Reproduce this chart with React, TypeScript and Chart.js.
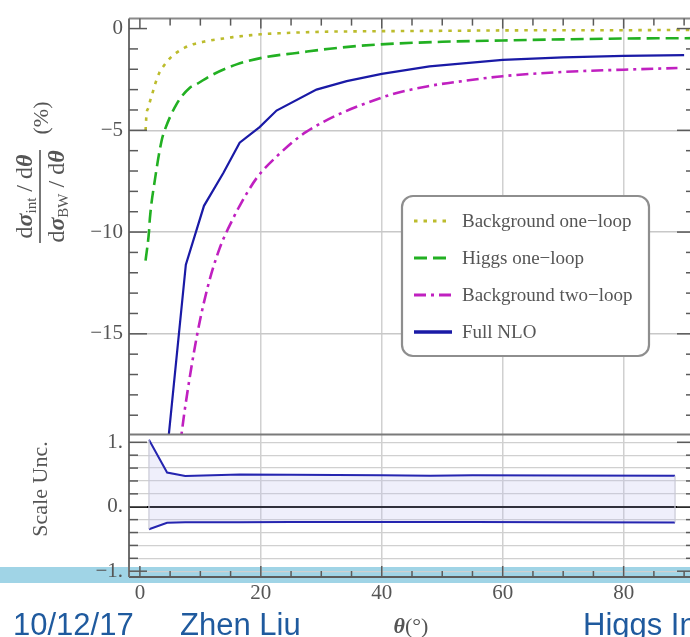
import React, { useEffect, useRef } from "react";
import { Chart, registerables } from "chart.js";

Chart.register(...registerables);

// ---------------- data ----------------
const THETA_BKG1 = [0.94, 1.1, 1.4, 1.65, 1.95, 2.5, 3.2, 3.87, 4.96, 6.07, 7.4, 8.8, 10.5, 12.1, 13.8, 15.4, 18.5, 20, 23.1, 29.8, 39, 50, 60, 70, 80, 91.8];
const BKG_ONE_LOOP = [-5.0, -4.2, -3.9, -3.6, -3.31, -2.75, -2.18, -1.86, -1.46, -1.18, -0.94, -0.77, -0.65, -0.56, -0.49, -0.42, -0.32, -0.28, -0.23, -0.16, -0.13, -0.11, -0.09, -0.08, -0.08, -0.06];

const THETA_HIGGS = [0.94, 1.5, 1.65, 2.5, 3.6, 4.1, 6.07, 8.26, 9.4, 11.6, 16, 21, 25.9, 31.4, 39, 50, 60, 70, 80, 91.8];
const HIGGS_ONE_LOOP = [-11.4, -10.0, -9.34, -7.4, -5.5, -5.0, -3.71, -2.91, -2.73, -2.33, -1.76, -1.39, -1.2, -0.99, -0.79, -0.65, -0.585, -0.53, -0.49, -0.47];

const THETA_BKG2 = [6.0, 6.9, 7.44, 9.4, 11.2, 13.2, 15.4, 16.5, 19.3, 22.6, 27.5, 40, 47.9, 53.4, 60, 70, 80, 88.9];
const BKG_TWO_LOOP = [-22.0, -19.9, -18.7, -15.15, -12.72, -10.79, -9.34, -8.71, -7.35, -6.29, -5.08, -3.39, -2.82, -2.58, -2.34, -2.13, -2.02, -1.94];

const THETA_NLO = [4.5, 7.6, 10.6, 13.8, 16.5, 19.8, 22.6, 29.2, 34.2, 40, 47.9, 60, 70, 80, 90];
const FULL_NLO = [-20.8, -11.6, -8.71, -7.1, -5.61, -4.84, -4.03, -3.0, -2.58, -2.23, -1.86, -1.54, -1.42, -1.34, -1.3];

const THETA_SCALE = [1.5, 4.5, 7.5, 16.5, 25, 40, 48, 55, 70, 88.5];
const SCALE_UP = [1.04, 0.53, 0.476, 0.5, 0.495, 0.49, 0.48, 0.49, 0.485, 0.48];
const SCALE_DOWN = [-0.35, -0.25, -0.24, -0.24, -0.238, -0.237, -0.237, -0.237, -0.24, -0.245];

const LEGEND_LABELS = ["Background one\u2212loop", "Higgs one\u2212loop", "Background two\u2212loop", "Full NLO"];

const X_TICKS = [0, 20, 40, 60, 80];
const Y_TICKS = [0, -5, -10, -15];
const Y2_TICKS = [-1, -0.8, -0.6, -0.4, -0.2, 0, 0.2, 0.4, 0.6, 0.8, 1];
const Y2_LABELS: Record<string, string> = { "1": "1.", "0": "0.", "-1": "\u22121." };

const FOOTER = ["10/12/17", "Zhen Liu", "Higgs In"];

// ---------------- styling ----------------
const FS = "'Liberation Serif', 'DejaVu Serif', serif";
const FSANS = "'Liberation Sans', Arial, sans-serif";
const TXT = "#555";

const pts = (xs: number[], ys: number[]) => xs.map((x, i) => ({ x, y: ys[i] }));

function line(ctx: CanvasRenderingContext2D, x1: number, y1: number, x2: number, y2: number, color: string, w: number) {
  ctx.beginPath();
  ctx.strokeStyle = color;
  ctx.lineWidth = w;
  ctx.moveTo(x1, y1);
  ctx.lineTo(x2, y2);
  ctx.stroke();
}

const decoPlugin = {
  id: "deco",
  beforeDraw(chart: any) {
    const ctx = chart.ctx;
    ctx.save();
    ctx.fillStyle = "#a0d4e6";
    ctx.fillRect(0, 567, chart.width, 16);
    ctx.restore();
  },
};

const clipPlugin = {
  id: "panelClip",
  beforeDatasetDraw(chart: any, args: any) {
    const ys = chart.scales[args.meta.yAxisID];
    const a = chart.chartArea;
    const ctx = chart.ctx;
    ctx.save();
    ctx.beginPath();
    ctx.rect(a.left, ys.top, a.right - a.left, ys.bottom - ys.top);
    ctx.clip();
  },
  afterDatasetDraw(chart: any) {
    chart.ctx.restore();
  },
};

const framePlugin = {
  id: "frame",
  afterDatasetsDraw(chart: any) {
    const { ctx, chartArea: a, scales } = chart;
    const x = scales.x, y = scales.y, y2 = scales.y2;
    ctx.save();
    ctx.setLineDash([]);
    // band edges
    const ds4 = chart.data.datasets[4].data, ds5 = chart.data.datasets[5].data;
    [0, ds4.length - 1].forEach((i) => {
      const px = x.getPixelForValue(ds4[i].x);
      line(ctx, px, y2.getPixelForValue(ds4[i].y), px, y2.getPixelForValue(ds5[i].y), "#c9c9d6", 1.2);
    });
    // frame
    line(ctx, a.left, a.top, a.right, a.top, "#8a8a8a", 2);
    line(ctx, a.left, y.bottom, a.right, y.bottom, "#7a7a7a", 2);
    line(ctx, a.left, a.bottom, a.right, a.bottom, "#5c5c5c", 2);
    line(ctx, a.left, a.top, a.left, a.bottom, "#6e6e6e", 2);
    line(ctx, a.right, a.top, a.right, a.bottom, "#6e6e6e", 2);
    const tc = "#5a5a5a";
    for (let v = 0; v <= 90; v += 5) {
      const px = x.getPixelForValue(v);
      const major = v % 20 === 0;
      line(ctx, px, a.top, px, a.top + (major ? 10 : 7), tc, 1.5);
      line(ctx, px, a.bottom, px, a.bottom - (major ? 11 : 6), tc, 1.5);
    }
    for (let v = -19; v <= 0; v++) {
      const py = y.getPixelForValue(v);
      const len = v % 5 === 0 ? 18 : 9;
      line(ctx, a.left, py, a.left + len, py, tc, 1.5);
      line(ctx, a.right, py, a.right - len, py, tc, 1.5);
    }
    for (let i = -5; i <= 5; i++) {
      const py = y2.getPixelForValue(i * 0.2);
      const len = i % 5 === 0 ? 18 : 9;
      line(ctx, a.left, py, a.left + len, py, tc, 1.5);
      line(ctx, a.right, py, a.right - len, py, tc, 1.5);
    }
    // legend
    const bx = 402, by = 196, bw = 247, bh = 160;
    ctx.beginPath();
    ctx.roundRect(bx, by, bw, bh, 11);
    ctx.fillStyle = "#fff";
    ctx.fill();
    ctx.lineWidth = 2.2;
    ctx.strokeStyle = "#8e8e8e";
    ctx.stroke();
    ctx.font = `19px ${FS}`;
    ctx.textBaseline = "middle";
    ctx.textAlign = "left";
    for (let i = 0; i < 4; i++) {
      const ds = chart.data.datasets[i];
      const ry = 221 + i * 37;
      ctx.setLineDash(ds.borderDash || []);
      line(ctx, 414, ry, 452, ry, ds.borderColor, i === 3 ? 3.5 : 3);
      ctx.setLineDash([]);
      ctx.fillStyle = TXT;
      ctx.fillText(ds.label, 462, ry + 1);
    }
    ctx.restore();
  },
};

function drawPieces(ctx: CanvasRenderingContext2D, pieces: { t: string; f: string; dy?: number }[], cx: number, base: number) {
  const ws = pieces.map((p) => {
    ctx.font = p.f;
    return ctx.measureText(p.t).width;
  });
  const total = ws.reduce((s, w) => s + w, 0);
  let xx = cx - total / 2;
  pieces.forEach((p, i) => {
    ctx.font = p.f;
    ctx.fillText(p.t, xx, base + (p.dy || 0));
    xx += ws[i];
  });
}

const titlePlugin = {
  id: "titles",
  afterDraw(chart: any) {
    const ctx = chart.ctx;
    ctx.save();
    ctx.fillStyle = TXT;
    ctx.textAlign = "left";
    ctx.textBaseline = "alphabetic";
    // top y-axis title (fraction)
    ctx.save();
    ctx.translate(40, 196.5);
    ctx.rotate(-Math.PI / 2);
    const R = `24px ${FS}`, B = `bold italic 24px ${FS}`, S = `15px ${FS}`;
    drawPieces(ctx, [
      { t: "d", f: R }, { t: "\u03c3", f: B }, { t: "int", f: S, dy: 4 }, { t: " / ", f: R }, { t: "d", f: R }, { t: "\u03b8", f: B },
    ], 0, -8);
    drawPieces(ctx, [
      { t: "d", f: R }, { t: "\u03c3", f: B }, { t: "BW", f: S, dy: 4 }, { t: " / ", f: R }, { t: "d", f: R }, { t: "\u03b8", f: B },
    ], 0, 24);
    line(ctx, -46.5, 0, 46.5, 0, TXT, 1.6);
    drawPieces(ctx, [{ t: "(%)", f: `22px ${FS}` }], 78.5, 8);
    ctx.restore();
    // bottom y-axis title
    ctx.save();
    ctx.translate(47, 489);
    ctx.rotate(-Math.PI / 2);
    ctx.textAlign = "center";
    ctx.font = `22px ${FS}`;
    ctx.fillText("Scale Unc.", 0, 0);
    ctx.restore();
    // x-axis title
    drawPieces(ctx, [{ t: "\u03b8", f: `bold italic 22px ${FS}` }, { t: "(\u00b0)", f: `22px ${FS}` }], 411, 633);
    // footer
    ctx.fillStyle = "#1f5a9e";
    ctx.font = `31px ${FSANS}`;
    ctx.fillText(FOOTER[0], 13, 635);
    ctx.fillText(FOOTER[1], 180, 635);
    ctx.fillText(FOOTER[2], 583, 635);
    ctx.restore();
  },
};

export default function App() {
  const ref = useRef<HTMLCanvasElement>(null);
  useEffect(() => {
    const canvas = ref.current!;
    const chart = new Chart(canvas, {
      type: "line",
      data: {
        datasets: [
          {
            label: LEGEND_LABELS[0], data: pts(THETA_BKG1, BKG_ONE_LOOP), yAxisID: "y",
            borderColor: "#bcbc2c", borderWidth: 2.6, borderDash: [3.5, 6], cubicInterpolationMode: "monotone", pointRadius: 0, fill: false,
          },
          {
            label: LEGEND_LABELS[1], data: pts(THETA_HIGGS, HIGGS_ONE_LOOP), yAxisID: "y",
            borderColor: "#22b022", borderWidth: 2.6, borderDash: [13, 6], cubicInterpolationMode: "monotone", pointRadius: 0, fill: false,
          },
          {
            label: LEGEND_LABELS[2], data: pts(THETA_BKG2, BKG_TWO_LOOP), yAxisID: "y",
            borderColor: "#c020c0", borderWidth: 2.6, borderDash: [12, 5, 3, 5], cubicInterpolationMode: "monotone", pointRadius: 0, fill: false,
          },
          {
            label: LEGEND_LABELS[3], data: pts(THETA_NLO, FULL_NLO), yAxisID: "y",
            borderColor: "#1a1aa6", borderWidth: 2.2, tension: 0, pointRadius: 0, fill: false,
          },
          {
            label: "Scale Unc. (upper)", data: pts(THETA_SCALE, SCALE_UP), yAxisID: "y2",
            borderColor: "#2525b0", borderWidth: 2, tension: 0, pointRadius: 0, fill: false,
          },
          {
            label: "Scale Unc. (lower)", data: pts(THETA_SCALE, SCALE_DOWN), yAxisID: "y2",
            borderColor: "#2525b0", borderWidth: 2, tension: 0, pointRadius: 0,
            fill: "-1", backgroundColor: "rgba(190,190,240,0.25)",
          },
        ] as any,
      },
      options: {
        animation: false,
        responsive: false,
        events: [],
        layout: { padding: { left: 0, right: 5, top: 10, bottom: 0 } },
        plugins: { legend: { display: false }, tooltip: { enabled: false } },
        elements: { point: { radius: 0 } },
        scales: {
          x: {
            type: "linear", position: "bottom", min: -1.8, max: 91.8,
            afterBuildTicks: (s: any) => { s.ticks = X_TICKS.map((v) => ({ value: v })); },
            afterFit: (s: any) => { s.height = 60; },
            grid: {
              color: (c: any) => (c.tick && c.tick.value === 0 ? "rgba(0,0,0,0)" : "#d0d0d0"),
              lineWidth: 1.5, drawTicks: false,
            },
            border: { display: false },
            ticks: {
              autoSkip: false, maxRotation: 0, padding: 4, color: TXT,
              font: { family: FS, size: 21, lineHeight: 1.2 },
              callback: (v: any) => String(v),
            },
          },
          y: {
            type: "linear", position: "left", stack: "panels", stackWeight: 2.92, weight: 1, min: -19.95, max: 0.49,
            afterBuildTicks: (s: any) => { s.ticks = Y_TICKS.map((v) => ({ value: v })); },
            afterFit: (s: any) => { s.width = 129; },
            grid: {
              color: (c: any) => (c.tick && c.tick.value === 0 ? "rgba(0,0,0,0)" : "#c8c8c8"),
              lineWidth: 1.5, drawTicks: false,
            },
            border: { display: false },
            ticks: {
              autoSkip: false, padding: 6, color: TXT,
              font: { family: FS, size: 21 },
              callback: (v: any) => (v < 0 ? "\u2212" + String(-v) : String(v)),
            },
          },
          y2: {
            type: "linear", position: "left", stack: "panels", stackWeight: 1, weight: 0, min: -1.09, max: 1.12,
            afterBuildTicks: (s: any) => { s.ticks = Y2_TICKS.map((v) => ({ value: v })); },
            afterFit: (s: any) => { s.width = 129; },
            grid: {
              color: (c: any) => (c.tick && Math.abs(c.tick.value) < 1e-9 ? "#000" : "#d0d0d0"),
              lineWidth: (c: any) => (c.tick && Math.abs(c.tick.value) < 1e-9 ? 2 : 1.3),
              drawTicks: false,
            },
            border: { display: false },
            ticks: {
              autoSkip: false, padding: 6, color: TXT,
              font: { family: FS, size: 21 },
              callback: (v: any) => {
                const k = String(Math.round(Number(v) * 10) / 10);
                return Y2_LABELS[k] !== undefined ? Y2_LABELS[k] : "";
              },
            },
          },
        },
      } as any,
      plugins: [decoPlugin, clipPlugin, framePlugin, titlePlugin],
    });
    return () => chart.destroy();
  }, []);

  return (
    <div style={{ position: "fixed", left: 0, top: 0, width: 690, height: 637, overflow: "hidden", background: "#fff" }}>
      <canvas ref={ref} width={700} height={637} style={{ display: "block", width: 700, height: 637 }} />
    </div>
  );
}
